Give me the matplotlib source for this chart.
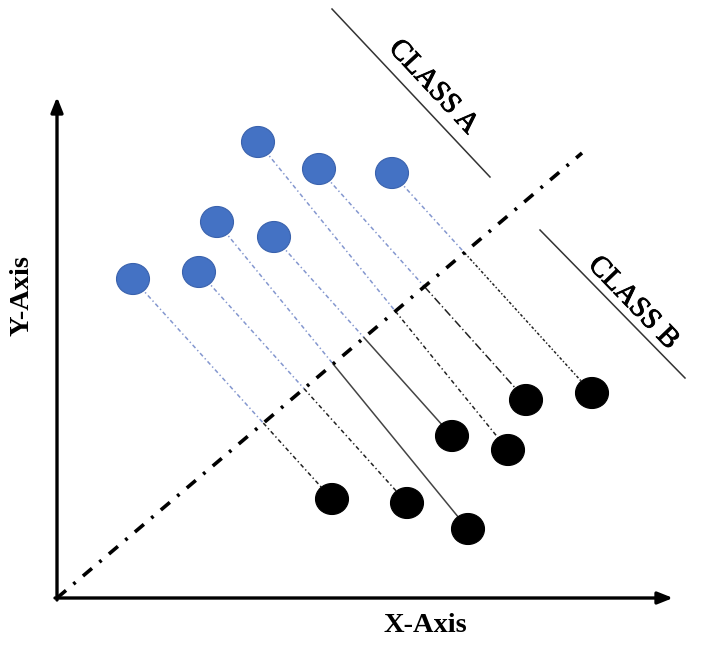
import numpy as np
import matplotlib
matplotlib.use('Agg')
import matplotlib.pyplot as plt
import matplotlib.patheffects as pe
from matplotlib.patches import Ellipse

plt.rcParams['font.family'] = ['Liberation Serif', 'DejaVu Serif']
plt.rcParams['lines.scale_dashes'] = False

# 파란 점(Class A)과 검은 점(Class B) 좌표 - 그림의 픽셀 좌표 기준, 짝지어진 순서
blue_x = [133, 199, 217, 274, 258, 319, 392]
blue_y = [279, 272, 222, 237, 142, 169, 173]
black_x = [332, 407, 468, 452, 508, 526, 592]
black_y = [499, 503, 529, 436, 450, 400, 393]

# 경계선(결정 경계) 양 끝점
boundary_x = [57, 582]
boundary_y = [598, 153]

# 클래스 구분 보조선
class_a_x = [332, 490]
class_a_y = [9, 177]
class_b_x = [540, 685]
class_b_y = [230, 378]

# 아래쪽(검은 점 쪽) 연결선 스타일
lower_styles = ['fine', 'fine', 'solid', 'solid', 'fine', 'long', 'dot']

fig = plt.figure(figsize=(7.09, 6.49), dpi=100)
ax = fig.add_axes([0, 0, 1, 1])
ax.set_xlim(0, 709)
ax.set_ylim(649, 0)
ax.axis('off')

# 축 화살표
head = '-|>,head_length=0.9,head_width=0.36'
ax.annotate('', xy=(57, 97), xytext=(57, 600),
            arrowprops=dict(arrowstyle=head, lw=2.4, color='black', shrinkA=0, shrinkB=0))
ax.annotate('', xy=(673, 598), xytext=(55, 598),
            arrowprops=dict(arrowstyle=head, lw=2.4, color='black', shrinkA=0, shrinkB=0))


def intersect(x1, y1, x2, y2):
    '''점 두 개를 잇는 선분과 경계선의 교점'''
    bx1, by1 = boundary_x[0], boundary_y[0]
    bx2, by2 = boundary_x[1], boundary_y[1]
    d1 = np.array([x2 - x1, y2 - y1], float)
    d2 = np.array([bx2 - bx1, by2 - by1], float)
    A = np.array([d1, -d2]).T
    t, _ = np.linalg.solve(A, np.array([bx1 - x1, by1 - y1], float))
    return x1 + t * d1[0], y1 + t * d1[1]


for bx, by, kx, ky, st in zip(blue_x, blue_y, black_x, black_y, lower_styles):
    ix, iy = intersect(bx, by, kx, ky)
    up, = ax.plot([bx, ix], [by, iy], color='#8497cf', lw=1.1, zorder=1)
    up.set_dashes([3, 2, 1, 2])
    if st == 'solid':
        ax.plot([ix, kx], [iy, ky], color='#444444', lw=1.1, zorder=1)
    elif st == 'long':
        ln, = ax.plot([ix, kx], [iy, ky], color='#222222', lw=1.1, zorder=1)
        ln.set_dashes([6, 2, 1, 2])
    elif st == 'dot':
        ln, = ax.plot([ix, kx], [iy, ky], color='#222222', lw=1.1, zorder=1)
        ln.set_dashes([2, 1.5, 1, 1.5])
    else:
        ln, = ax.plot([ix, kx], [iy, ky], color='#222222', lw=1.1, zorder=1)
        ln.set_dashes([3, 2, 1, 2])

# 결정 경계 (굵은 일점쇄선)
bl, = ax.plot(boundary_x, boundary_y, color='black', lw=2.6, zorder=2)
bl.set_dashes([8.5, 7, 2, 7])

# 점 그리기
for x, y in zip(blue_x, blue_y):
    ax.add_patch(Ellipse((x, y), 33, 31, facecolor='#4472c4', edgecolor='#3a62ad', lw=0.8, zorder=3))
for x, y in zip(black_x, black_y):
    ax.add_patch(Ellipse((x, y), 33, 31, facecolor='black', edgecolor='black', lw=0.8, zorder=3))

# 클래스 보조선과 라벨
ax.plot(class_a_x, class_a_y, color='#333333', lw=1.1)
ax.plot(class_b_x, class_b_y, color='#333333', lw=1.1)
thick = [pe.withStroke(linewidth=0.6, foreground='black')]
ax.text(433, 87, 'CLASS A', rotation=-47, rotation_mode='anchor', ha='center', va='center',
        fontsize=21, path_effects=thick)
ax.text(633, 303, 'CLASS B', rotation=-46, rotation_mode='anchor', ha='center', va='center',
        fontsize=21, path_effects=thick)

# 축 이름
ax.text(425, 626, 'X-Axis', ha='center', va='center', fontsize=20.5, fontweight='bold')
ax.text(22, 295, 'Y-Axis', ha='center', va='center', rotation=90, fontsize=20.5, fontweight='bold')

plt.savefig('out.png', dpi=100)
